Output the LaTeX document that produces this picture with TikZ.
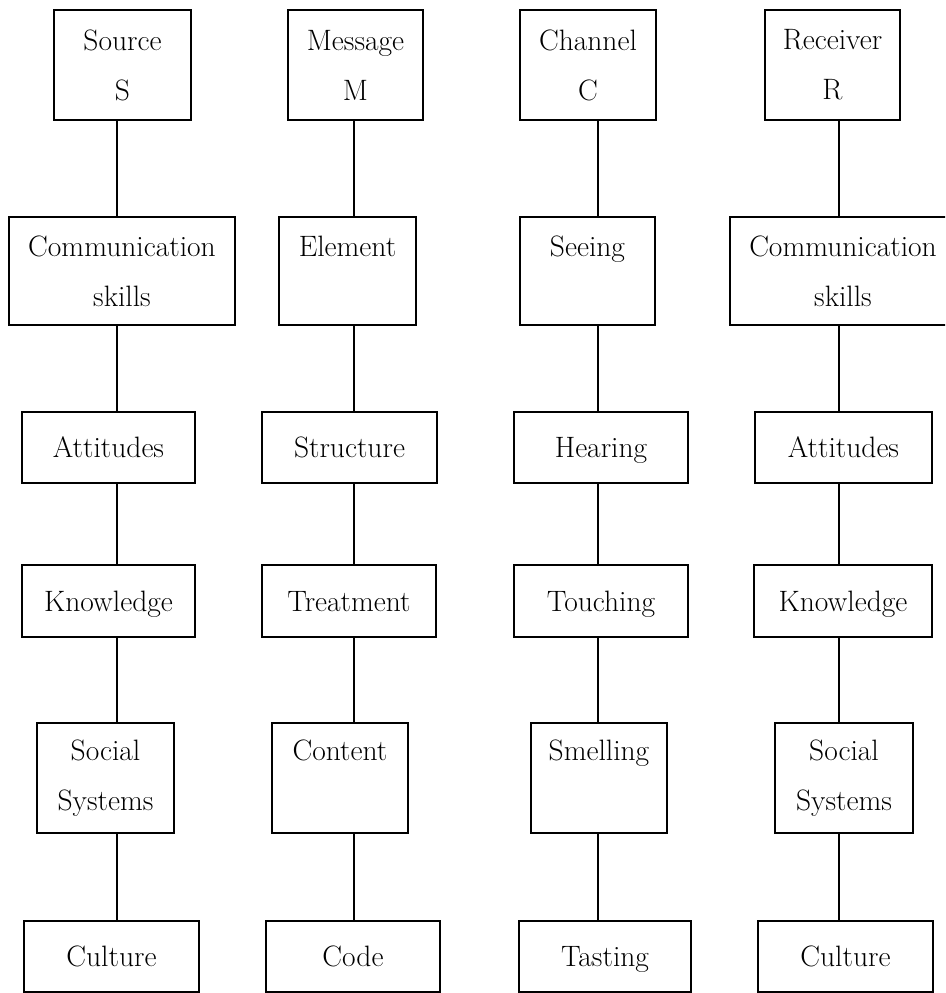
\documentclass[tikz,border=0pt]{standalone}
\usepackage{fontspec}
\begin{document}
\begin{tikzpicture}[x=1pt,y=-1pt,
  bx/.style={draw, line width=1.8pt, inner sep=0pt, align=center,
    font=\fontsize{29.5}{50}\selectfont},
  thick line/.style={line width=2pt},
  thin line/.style={line width=1.5pt}]
\useasboundingbox (0,0) rectangle (945,993);
\clip (0,0) rectangle (945,993);
\fill[white] (0,0) rectangle (945,993);
% column coordinates for the connectors
\coordinate (c1) at (117,0);
\coordinate (c2) at (354,0);
\coordinate (c3) at (598,0);
\coordinate (c4) at (839,0);
% row 1
\node[bx, minimum width=137, minimum height=110] (src) at (122.5,65) {Source\\S};
\node[bx, minimum width=135, minimum height=110] (msg) at (355.5,65) {Message\\M};
\node[bx, minimum width=136, minimum height=110] (chn) at (588,65) {Channel\\C};
\node[bx, minimum width=135, minimum height=110] (rcv) at (832.5,65) {Receiver\\R};
% row 2
\node[bx, minimum width=226, minimum height=108] (cs1) at (122,271) {Communication\\skills};
\node[bx, minimum width=137, minimum height=108] (elm) at (347.5,271) {Element\\\phantom{skills}};
\node[bx, minimum width=135, minimum height=108] (see) at (587.5,271) {Seeing\\\phantom{skills}};
\node[bx, minimum width=226, minimum height=108] (cs2) at (843,271) {Communication\\skills};
% row 3
\node[bx, minimum width=173, minimum height=71] (att1) at (108.5,447.5) {\strut Attitudes};
\node[bx, minimum width=175, minimum height=71] (str) at (349.5,447.5) {\strut Structure};
\node[bx, minimum width=174, minimum height=71] (hear) at (601,447.5) {\strut Hearing};
\node[bx, minimum width=177, minimum height=71] (att2) at (843.5,447.5) {\strut Attitudes};
% row 4
\node[bx, minimum width=173, minimum height=72] (kn1) at (108.5,601) {\strut Knowledge};
\node[bx, minimum width=174, minimum height=72] (trt) at (349,601) {\strut Treatment};
\node[bx, minimum width=174, minimum height=72] (tch) at (601,601) {\strut Touching};
\node[bx, minimum width=178, minimum height=72] (kn2) at (843,601) {\strut Knowledge};
% row 5
\node[bx, minimum width=137, minimum height=110] (soc1) at (105.5,778) {Social\\Systems};
\node[bx, minimum width=136, minimum height=110] (cnt) at (340,778) {Content\\\phantom{Systems}};
\node[bx, minimum width=136, minimum height=110] (sml) at (599,778) {Smelling\\\phantom{Systems}};
\node[bx, minimum width=138, minimum height=110] (soc2) at (844,778) {Social\\Systems};
% row 6
\node[bx, minimum width=175, minimum height=71] (cul1) at (111.5,956.5) {\strut Culture};
\node[bx, minimum width=174, minimum height=71] (code) at (353,956.5) {\strut Code};
\node[bx, minimum width=172, minimum height=71] (tst) at (605,956.5) {\strut Tasting};
\node[bx, minimum width=175, minimum height=71] (cul2) at (845.5,956.5) {\strut Culture};
% connectors
\draw[thick line] (src.south -| c1) -- (cs1.north -| c1);
\draw[thick line] (cs1.south -| c1) -- (att1.north -| c1);
\draw[thick line] (att1.south -| c1) -- (kn1.north -| c1);
\draw[thick line] (kn1.south -| c1) -- (soc1.north -| c1);
\draw[thick line] (soc1.south -| c1) -- (cul1.north -| c1);
\draw[thin line] (msg.south -| c2) -- (elm.north -| c2);
\draw[thin line] (elm.south -| c2) -- (str.north -| c2);
\draw[thin line] (str.south -| c2) -- (trt.north -| c2);
\draw[thin line] (trt.south -| c2) -- (cnt.north -| c2);
\draw[thin line] (cnt.south -| c2) -- (code.north -| c2);
\draw[thin line] (chn.south -| c3) -- (see.north -| c3);
\draw[thin line] (see.south -| c3) -- (hear.north -| c3);
\draw[thin line] (hear.south -| c3) -- (tch.north -| c3);
\draw[thin line] (tch.south -| c3) -- (sml.north -| c3);
\draw[thin line] (sml.south -| c3) -- (tst.north -| c3);
\draw[thick line] (rcv.south -| c4) -- (cs2.north -| c4);
\draw[thick line] (cs2.south -| c4) -- (att2.north -| c4);
\draw[thick line] (att2.south -| c4) -- (kn2.north -| c4);
\draw[thick line] (kn2.south -| c4) -- (soc2.north -| c4);
\draw[thick line] (soc2.south -| c4) -- (cul2.north -| c4);
\end{tikzpicture}
\end{document}
